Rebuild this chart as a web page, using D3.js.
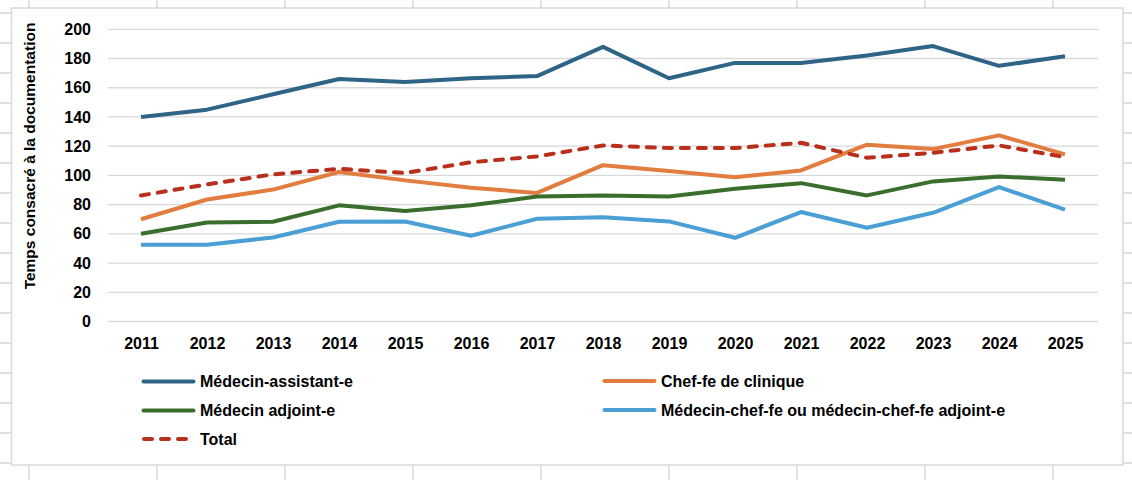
<!DOCTYPE html>
<html>
<head>
<meta charset="utf-8">
<script src="https://cdn.jsdelivr.net/npm/d3@7"></script>
<style>
  body { margin: 0; background: #fff; }
  svg { display: block; font-family: "Liberation Sans", Arial, sans-serif; }
</style>
</head>
<body>
<div id="chart"></div>
<script>
var years = [2011, 2012, 2013, 2014, 2015, 2016, 2017, 2018, 2019, 2020, 2021, 2022, 2023, 2024, 2025];
var yTicks = [0, 20, 40, 60, 80, 100, 120, 140, 160, 180, 200];

var assistant = [140, 145, 155.5, 166, 164, 166.5, 168, 188, 166.5, 177, 177, 182, 188.5, 175, 181.5];
var chefClinique = [70, 83.5, 90.3, 102.3, 96.6, 91.5, 88, 107, 103, 98.7, 103.4, 121, 118, 127.4, 114.4];
var adjoint = [60, 67.8, 68.3, 79.5, 75.6, 79.5, 85.5, 86.3, 85.6, 90.9, 94.7, 86.3, 95.9, 99.3, 97];
var medChef = [52.5, 52.5, 57.5, 68.3, 68.5, 58.7, 70.3, 71.4, 68.5, 57.3, 74.9, 64.2, 74.4, 92, 76.5];
var total = [86.3, 93.8, 100.7, 104.5, 101.6, 109, 113, 120.5, 118.7, 118.7, 122.3, 112, 115.5, 120.5, 112.5];

var seriesNames = ["Médecin-assistant-e", "Chef-fe de clinique", "Médecin adjoint-e",
    "Médecin-chef-fe ou médecin-chef-fe adjoint-e", "Total"];

var W = 1132, H = 480;
var color = {
    "Médecin-assistant-e": "#2E6486",
    "Chef-fe de clinique": "#E27D3F",
    "Médecin adjoint-e": "#3A6E2D",
    "Médecin-chef-fe ou médecin-chef-fe adjoint-e": "#4A9FD5",
    "Total": "#B82F1C"
};

var series = [
    { name: seriesNames[0], values: assistant },
    { name: seriesNames[1], values: chefClinique },
    { name: seriesNames[2], values: adjoint },
    { name: seriesNames[3], values: medChef },
    { name: seriesNames[4], values: total, dashed: true }
];

var svg = d3.select("#chart").append("svg")
    .attr("width", W)
    .attr("height", H);

// spreadsheet cells behind the chart
var sheet = svg.append("g").attr("stroke", "#D6D6D6").attr("stroke-width", 1.4);
sheet.selectAll(".col")
    .data(d3.range(29, W, 128))
    .enter().append("line")
    .attr("x1", d => d).attr("x2", d => d)
    .attr("y1", 0).attr("y2", H);
sheet.selectAll(".row")
    .data(d3.range(13, H, 30))
    .enter().append("line")
    .attr("x1", 0).attr("x2", W)
    .attr("y1", d => d).attr("y2", d => d);

// chart area
svg.append("rect")
    .attr("x", 11.5).attr("y", 8)
    .attr("width", 1111.5).attr("height", 457)
    .attr("fill", "#fff")
    .attr("stroke", "#D9D9D9")
    .attr("stroke-width", 1.5);

var x = d3.scalePoint()
    .domain(years)
    .range([108, 1098])
    .padding(0.5);

var y = d3.scaleLinear()
    .domain([0, 200])
    .range([321.5, 29.3]);

// gridlines
svg.append("g")
    .selectAll("line")
    .data(yTicks)
    .enter().append("line")
    .attr("x1", 108).attr("x2", 1098)
    .attr("y1", d => y(d)).attr("y2", d => y(d))
    .attr("stroke", "#D9D9D9")
    .attr("stroke-width", 1.3);

var yAxis = d3.axisLeft(y).tickValues(yTicks).tickSize(0).tickPadding(0);
var gy = svg.append("g")
    .attr("transform", "translate(91,0)")
    .call(yAxis);
gy.select(".domain").remove();
gy.selectAll("text")
    .attr("font-family", "'Liberation Sans', Arial, sans-serif")
    .attr("font-size", 16)
    .attr("font-weight", "bold")
    .attr("fill", "#000");

var xAxis = d3.axisBottom(x).tickSize(0).tickPadding(0);
var gx = svg.append("g")
    .attr("transform", "translate(0,338)")
    .call(xAxis);
gx.select(".domain").remove();
gx.selectAll("text")
    .attr("font-family", "'Liberation Sans', Arial, sans-serif")
    .attr("font-size", 16)
    .attr("font-weight", "bold")
    .attr("fill", "#000");

svg.append("text")
    .attr("transform", "translate(35,156) rotate(-90)")
    .attr("text-anchor", "middle")
    .attr("font-size", 15.5)
    .attr("font-weight", "bold")
    .text("Temps consacré à la documentation");

var line = d3.line()
    .x((d, i) => x(years[i]))
    .y(d => y(d));

svg.append("g")
    .selectAll("path")
    .data(series)
    .enter().append("path")
    .attr("d", d => line(d.values))
    .attr("fill", "none")
    .attr("stroke", d => color[d.name])
    .attr("stroke-width", 4)
    .attr("stroke-linejoin", "round")
    .attr("stroke-linecap", d => d.dashed ? "round" : "butt")
    .attr("stroke-dasharray", d => d.dashed ? "8,9" : null);

// legend
var legendPos = [
    { x: 142, y: 381.5 },
    { x: 603, y: 381 },
    { x: 142, y: 410.5 },
    { x: 603, y: 410 },
    { x: 142, y: 439 }
];

var legend = svg.append("g")
    .selectAll("g")
    .data(series)
    .enter().append("g")
    .attr("transform", (d, i) => "translate(" + legendPos[i].x + "," + legendPos[i].y + ")");

legend.append("line")
    .attr("x1", d => d.dashed ? 2 : 1.5)
    .attr("x2", d => d.dashed ? 50 : 51.5)
    .attr("stroke", d => color[d.name])
    .attr("stroke-width", 4)
    .attr("stroke-linecap", "round")
    .attr("stroke-dasharray", d => d.dashed ? "8,9" : null);

legend.append("text")
    .attr("x", 58)
    .attr("dy", "0.35em")
    .attr("font-size", 16)
    .attr("font-weight", "bold")
    .attr("fill", "#000")
    .text(d => d.name);
</script>
</body>
</html>
